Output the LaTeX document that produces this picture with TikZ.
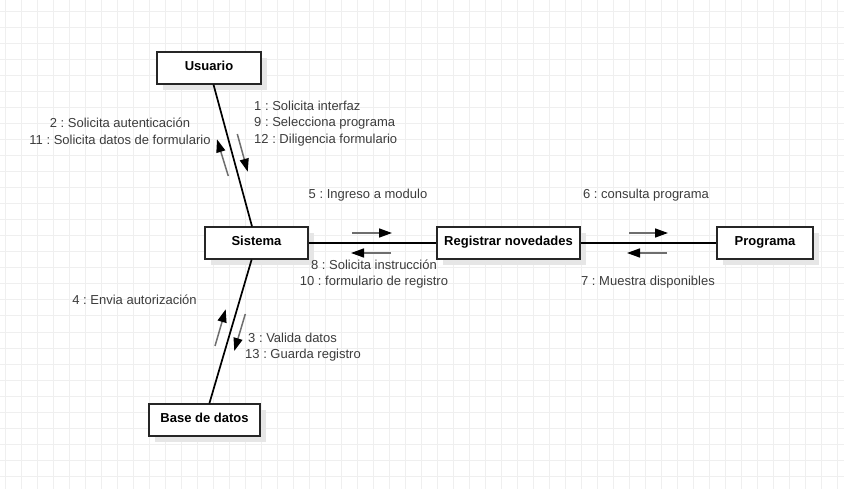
\documentclass[tikz,border=0pt]{standalone}
\usepackage{fontspec}
\setmainfont{Liberation Sans}
\usetikzlibrary{arrows.meta,shadows}
\definecolor{gridgray}{RGB}{239,239,239}
\definecolor{shade}{RGB}{230,230,230}
\definecolor{ink}{RGB}{60,60,60}
\definecolor{shaft}{RGB}{110,110,110}
\frenchspacing

\begin{document}
\begin{tikzpicture}[x=1pt,y=-1pt,
    obj/.style={draw=black!85,line width=1.1pt,fill=white,minimum height=32pt,
      inner sep=0pt,text height=9.5pt,text depth=4.5pt,
      font=\fontsize{13}{16}\selectfont\bfseries,
      drop shadow={shadow xshift=6pt,shadow yshift=-6pt,fill=shade,opacity=1}},
    link/.style={black,line width=1.7pt},
    msg/.style={shaft,line width=1.5pt,-{Triangle[length=13pt,width=9pt,color=black]}},
    lbl/.style={text=ink,inner sep=0pt,font=\fontsize{13}{16.5}\selectfont}]
  \useasboundingbox (0,0) rectangle (844,489);
  \fill[white] (0,0) rectangle (844,489);
  % grid
  \foreach \gx in {5,21,...,837}
    \draw[gridgray,line width=1pt] (\gx,0) -- (\gx,489);
  \foreach \gy in {12,28,...,476}
    \draw[gridgray,line width=1pt] (0,\gy) -- (844,\gy);

  % objects
  \node[obj,minimum width=104pt] (usuario) at (209,68) {Usuario};
  \node[obj,minimum width=103pt] (sistema) at (256.5,243) {Sistema};
  \node[obj,minimum width=143pt] (registrar) at (508.5,243) {Registrar novedades};
  \node[obj,minimum width=96pt] (programa) at (765,243) {Programa};
  \node[obj,minimum width=111pt] (base) at (204.5,420) {Base de datos};

  % links
  \draw[link] (usuario) -- (sistema);
  \draw[link] (sistema) -- (base);
  \draw[link] (sistema) -- (registrar);
  \draw[link] (registrar) -- (programa);

  % messages
  \foreach \sx/\sy/\ex/\ey [count=\i] in {
      237.3/134/247.7/171.7, 228.3/176/217/139.3,
      352/233/392/233, 391/253/351/253,
      629/233/668/233, 667/253/627/253,
      215/346/225.7/309.3, 245.3/314/234.3/351}
  {
    \coordinate (m\i a) at (\sx,\sy);
    \coordinate (m\i b) at (\ex,\ey);
    \draw[msg] (m\i a) -- (m\i b);
  }

  % labels
  \node[lbl,anchor=west,align=left] (lbla) at (254,123.3) {1 : Solicita interfaz\\9 : Selecciona programa\\12 : Diligencia formulario};
  \node[lbl,align=center] (lblb) at (120,131.3) {2 : Solicita autenticación\\11 : Solicita datos de formulario};
  \node[lbl] (lblc) at (368,195) {5 : Ingreso a modulo};
  \node[lbl] (lbld) at (646,195) {6 : consulta programa};
  \node[lbl,align=center] (lble) at (374,274) {8 : Solicita instrucción\\10 : formulario de registro};
  \node[lbl] (lblf) at (648,282) {7 : Muestra disponibles};
  \node[lbl] (lblg) at (134.5,300) {4 : Envia autorización};
  \node[lbl,anchor=west,align=left] (lblh) at (245,347) {\hspace{3pt}3 : Valida datos\\13 : Guarda registro};
\end{tikzpicture}
\end{document}
